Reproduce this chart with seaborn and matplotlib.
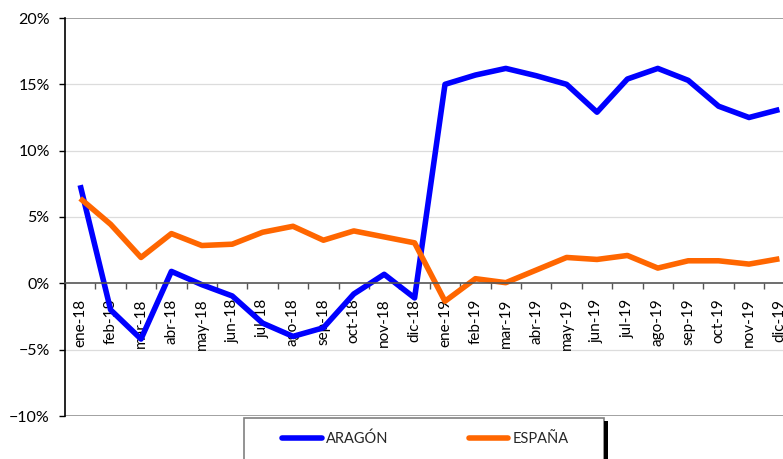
import matplotlib
matplotlib.use("Agg")
import matplotlib.pyplot as plt
from matplotlib.patches import Rectangle
from matplotlib.ticker import FixedLocator, PercentFormatter
import pandas as pd
import seaborn as sns

# Datos (variacion interanual, %)
meses = ["ene-18", "feb-18", "mar-18", "abr-18", "may-18", "jun-18",
         "jul-18", "ago-18", "sep-18", "oct-18", "nov-18", "dic-18",
         "ene-19", "feb-19", "mar-19", "abr-19", "may-19", "jun-19",
         "jul-19", "ago-19", "sep-19", "oct-19", "nov-19", "dic-19"]
aragon = [7.4, -2.0, -4.2, 0.9, -0.1, -0.95, -3.0, -4.0, -3.35, -0.8, 0.68, -1.1,
          15.0, 15.7, 16.2, 15.65, 15.0, 12.9, 15.4, 16.2, 15.3, 13.35, 12.5, 13.1]
espana = [6.4, 4.45, 1.95, 3.75, 2.85, 2.95, 3.85, 4.3, 3.25, 3.95, 3.5, 3.05,
          -1.35, 0.35, 0.05, 1.0, 1.95, 1.8, 2.1, 1.15, 1.7, 1.7, 1.45, 1.85]
series = ["ARAGÓN", "ESPAÑA"]
colores = ["#0000FF", "#FF6600"]
y_ticks = [-10, -5, 0, 5, 10, 15, 20]

df = pd.DataFrame({
    "mes": meses * 2,
    "valor": aragon + espana,
    "serie": [series[0]] * len(meses) + [series[1]] * len(meses),
})

sns.set_theme(style="white")
plt.rcParams["font.family"] = ["Lato", "DejaVu Sans"]

W, H = 783, 459
fig = plt.figure(figsize=(W / 100, H / 100), dpi=100)
# el area de trazado se sale por la derecha, como en el original
ax = fig.add_axes([65 / W, 43 / H, 729.6 / W, 398 / H])

sns.lineplot(data=df, x="mes", y="valor", hue="serie", palette=colores,
             hue_order=series, sort=False, linewidth=4, legend=False, ax=ax,
             solid_joinstyle="round", solid_capstyle="butt")

ax.set_xlim(-0.5, len(meses) - 0.5)
ax.set_ylim(-10, 20)
ax.set_xlabel("")
ax.set_ylabel("")

# rejilla horizontal
for v in y_ticks:
    if v in (-10, 20):
        ax.axhline(v, color="#9a9a9a", lw=1.3, zorder=0)
    elif v != 0:
        ax.axhline(v, color="#dcdcdc", lw=0.9, zorder=0)

for s in ["top", "right"]:
    ax.spines[s].set_visible(False)
ax.spines["left"].set_color("black")
ax.spines["left"].set_linewidth(1.2)
ax.spines["bottom"].set_position(("data", 0))
ax.spines["bottom"].set_color("#555555")
ax.spines["bottom"].set_linewidth(1.2)

ax.yaxis.set_major_locator(FixedLocator(y_ticks))
ax.yaxis.set_major_formatter(PercentFormatter(decimals=0))
ax.tick_params(axis="y", which="major", left=True, length=4, width=1,
               color="black", pad=7, labelsize=11.5, labelcolor="black")

ax.set_xticks(range(len(meses)))
ax.set_xticklabels(meses, rotation=90, va="top", ha="center")
ax.set_xticks([i - 0.5 for i in range(len(meses) + 1)], minor=True)
ax.tick_params(axis="x", which="major", bottom=True, length=0, pad=11,
               labelsize=11, labelcolor="black")
ax.tick_params(axis="x", which="minor", bottom=True, length=4, width=1,
               color="#555555", direction="out")

# recuadro de la leyenda (cortado abajo) con su sombra negra
fig.add_artist(Rectangle((244 / W, -0.05), 360 / W, (41 / H) + 0.05,
                         transform=fig.transFigure, facecolor="white",
                         edgecolor="#808080", lw=1.2))
fig.add_artist(Rectangle((604 / W, -0.05), 4 / W, (38 / H) + 0.05,
                         transform=fig.transFigure, facecolor="black",
                         edgecolor="none"))

handles = [plt.Line2D([], [], color=c, lw=4) for c in colores]
fig.legend(handles, series, loc="center", bbox_to_anchor=(425.5 / W, 20 / H),
           ncol=2, frameon=False, fontsize=10.5, handlelength=2.7,
           handletextpad=0.3, columnspacing=5.5)

fig.savefig("out.png", dpi=100)
